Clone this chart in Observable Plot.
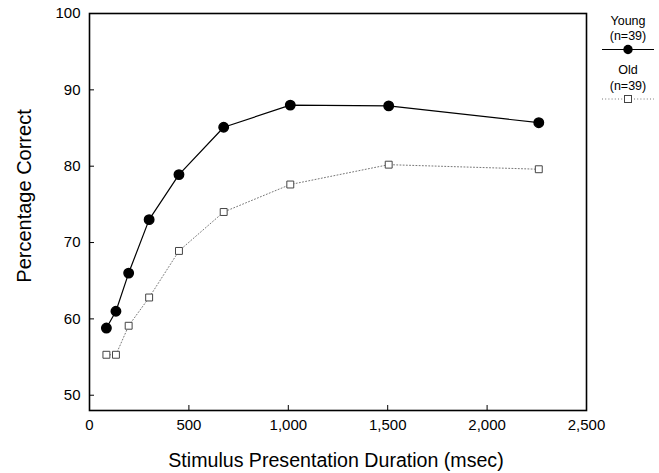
<!DOCTYPE html>
<html>
<head>
<meta charset="utf-8">
<script src="https://cdn.jsdelivr.net/npm/d3@7"></script>
<script src="https://cdn.jsdelivr.net/npm/@observablehq/plot@0.6"></script>
<style>
  html, body { margin: 0; padding: 0; background: #fff; }
  #chart svg { display: block; }
</style>
</head>
<body>
<div id="chart"></div>
<script>
const durations = [85, 133, 197, 300, 450, 675, 1010, 1505, 2260];
const youngValues = [58.8, 61.0, 66.0, 73.0, 78.9, 85.1, 88.0, 87.9, 85.7];
const oldValues = [55.3, 55.3, 59.1, 62.8, 68.9, 74.0, 77.6, 80.2, 79.6];
const xTicks = [0, 500, 1000, 1500, 2000, 2500];
const yTicks = [50, 60, 70, 80, 90, 100];
const groups = ["Young", "Old"];
const groupN = ["(n=39)", "(n=39)"];

const young = durations.map((d, i) => ({x: d, y: youngValues[i]}));
const old = durations.map((d, i) => ({x: d, y: oldValues[i]}));

const font = "'Liberation Sans', Arial, Helvetica, sans-serif";

const chart = Plot.plot({
  width: 659,
  height: 473,
  marginLeft: 89,
  marginRight: 73,
  marginTop: 13,
  marginBottom: 63,
  style: {fontFamily: font, fontSize: "15px", background: "#fff", color: "#000"},
  x: {domain: [0, 2500], ticks: xTicks, tickFormat: d3.format(","), label: null},
  y: {domain: [48, 100], ticks: yTicks, label: null},
  marks: [
    // inward ticks
    Plot.axisX({anchor: "bottom", ticks: xTicks, tickSize: 5, dy: -5, fill: "none", label: null}),
    Plot.axisY({anchor: "left", ticks: yTicks, tickSize: 5, dx: 5, fill: "none", label: null}),
    // tick labels
    Plot.axisX({anchor: "bottom", ticks: xTicks, tickSize: 0, tickPadding: 9, tickFormat: d3.format(","), fontSize: 15, label: null}),
    Plot.axisY({anchor: "left", ticks: yTicks, tickSize: 0, tickPadding: 9, fontSize: 15, label: null}),
    Plot.frame({stroke: "#000", strokeWidth: 1.6}),
    // Old series
    Plot.line(old, {x: "x", y: "y", stroke: "#777", strokeWidth: 1, strokeDasharray: "1,2.2"}),
    Plot.dot(old, {x: "x", y: "y", symbol: "square", r: 3.9, fill: "#fff", stroke: "#444", strokeWidth: 1}),
    // Young series
    Plot.line(young, {x: "x", y: "y", stroke: "#000", strokeWidth: 1.2}),
    Plot.dot(young, {x: "x", y: "y", r: 4.7, fill: "#000", stroke: "#000"}),
    // axis titles
    Plot.text(["Percentage Correct"], {frameAnchor: "left", textAnchor: "middle", lineAnchor: "middle", rotate: -90, dx: -65, dy: -16, fontSize: 20, fill: "#000"}),
    Plot.text(["Stimulus Presentation Duration (msec)"], {frameAnchor: "bottom", textAnchor: "middle", lineAnchor: "middle", dx: -2, dy: 50, fontSize: 19.6, fill: "#000"})
  ]
});

// Legend at the right of the frame
const svg = d3.select(chart);
const lg = svg.append("g").attr("font-family", font).attr("font-size", 12.5).attr("text-anchor", "middle");
const legendX = 628;
const rows = [
  {name: groups[0], n: groupN[0], ty: 25, ny: 40, ly: 49.5, stroke: "#000", dash: null, width: 1.2, symbol: "circle"},
  {name: groups[1], n: groupN[1], ty: 74, ny: 90, ly: 99, stroke: "#777", dash: "1,2.2", width: 1, symbol: "square"}
];
rows.forEach(r => {
  lg.append("text").attr("x", legendX).attr("y", r.ty).text(r.name);
  lg.append("text").attr("x", legendX).attr("y", r.ny).text(r.n);
  lg.append("line").attr("x1", legendX - 26).attr("x2", legendX + 26)
    .attr("y1", r.ly).attr("y2", r.ly)
    .attr("stroke", r.stroke).attr("stroke-width", r.width)
    .attr("stroke-dasharray", r.dash);
  if (r.symbol === "circle") {
    lg.append("circle").attr("cx", legendX).attr("cy", r.ly).attr("r", 4.7).attr("fill", "#000");
  } else {
    lg.append("rect").attr("x", legendX - 3.5).attr("y", r.ly - 3.5).attr("width", 7).attr("height", 7)
      .attr("fill", "#fff").attr("stroke", "#444").attr("stroke-width", 1);
  }
});

document.getElementById("chart").appendChild(chart);
</script>
</body>
</html>
